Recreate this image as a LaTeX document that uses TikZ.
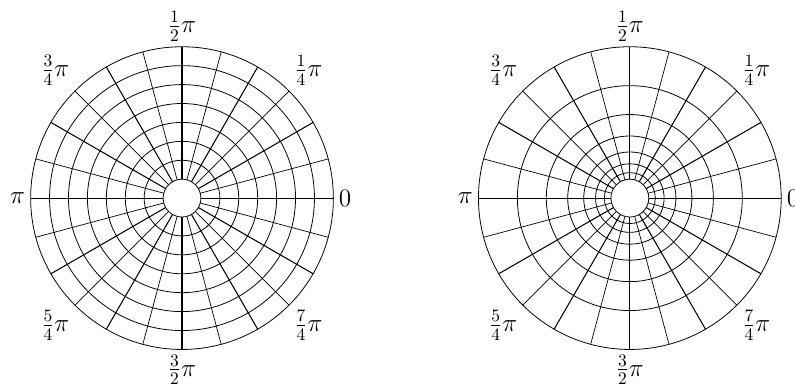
\documentclass[tikz,border=0pt]{standalone}
\usepackage{amsmath}
\usepackage{tikz}
\usetikzlibrary{calc}
\tikzset{
  ring/.style={line width=0.45pt},
  spoke/.style={line width=0.4pt},
  mainspoke/.style={line width=0.6pt},
  anglabel/.style={inner sep=3pt, font=\Large}
}

\begin{document}
\begin{tikzpicture}[x=0.38cm, y=0.38cm]
        \useasboundingbox (-9.62,-9.88) rectangle (32.4,10.47);

        % equally spaced rings
        \begin{scope}
            \coordinate (lc) at (0,0);
            \foreach \r in {1,...,8}
                \draw [ring] (lc) circle (\r);
            \foreach \a in {15,45,...,345}
                \draw [spoke] ($(lc)+(\a:1)$) -- ($(lc)+(\a:8)$);
            \foreach \a in {0,30,...,330}
                \draw [mainspoke] ($(lc)+(\a:1)$) -- ($(lc)+(\a:8)$);
            \foreach \a/\anc/\txt/\nm in {0/west/$0$/l0, 45/south west/$\frac{1}{4}\pi$/l1,
                    90/south/$\frac{1}{2}\pi$/l2, 135/south east/$\frac{3}{4}\pi$/l3,
                    180/east/$\pi$/l4, 225/north east/$\frac{5}{4}\pi$/l5,
                    270/north/$\frac{3}{2}\pi$/l6, 315/north west/$\frac{7}{4}\pi$/l7}
                \node (\nm) [anglabel, anchor=\anc] at ($(lc)+(\a:8)$) {\txt};
        \end{scope}

        % logarithmically spaced rings
        \begin{scope}
            \coordinate (rc) at (23.67,0);
            \foreach \k in {0,...,7}
                \draw [ring] (rc) circle ({8^(\k/7)});
            \foreach \a in {15,45,...,345}
                \draw [spoke] ($(rc)+(\a:1)$) -- ($(rc)+(\a:8)$);
            \foreach \a in {0,30,...,330}
                \draw [mainspoke] ($(rc)+(\a:1)$) -- ($(rc)+(\a:8)$);
            \foreach \a/\anc/\txt/\nm in {0/west/$0$/r0, 45/south west/$\frac{1}{4}\pi$/r1,
                    90/south/$\frac{1}{2}\pi$/r2, 135/south east/$\frac{3}{4}\pi$/r3,
                    180/east/$\pi$/r4, 225/north east/$\frac{5}{4}\pi$/r5,
                    270/north/$\frac{3}{2}\pi$/r6, 315/north west/$\frac{7}{4}\pi$/r7}
                \node (\nm) [anglabel, anchor=\anc] at ($(rc)+(\a:8)$) {\txt};
        \end{scope}
\end{tikzpicture}
\end{document}
